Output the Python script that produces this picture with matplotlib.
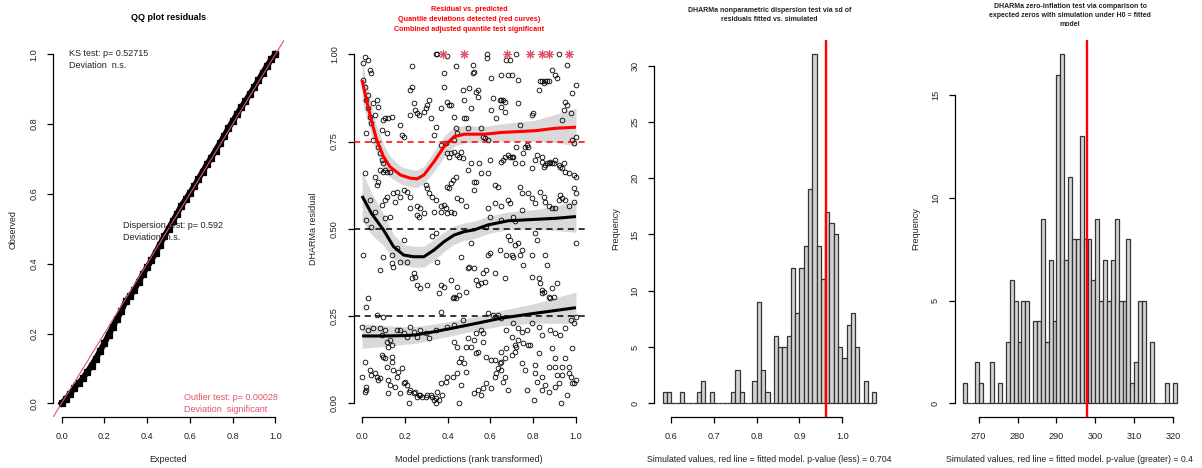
import numpy as np
import matplotlib.pyplot as plt

plt.rcParams['font.family'] = ['Liberation Sans', 'DejaVu Sans']

W, H = 1202, 468
TXT = '#222222'
PINK = '#DF536B'

# ---- panel 1: QQ plot ----
qq_expected = [0.00, 0.02, 0.04, 0.06, 0.08, 0.10, 0.12, 0.14, 0.16, 0.18,
               0.20, 0.22, 0.24, 0.26, 0.28, 0.30, 0.32, 0.34, 0.36, 0.38,
               0.40, 0.42, 0.44, 0.46, 0.48, 0.50, 0.52, 0.54, 0.56, 0.58,
               0.60, 0.62, 0.64, 0.66, 0.68, 0.70, 0.72, 0.74, 0.76, 0.78,
               0.80, 0.82, 0.84, 0.86, 0.88, 0.90, 0.92, 0.94, 0.96, 0.98, 1.00]
qq_observed = [0.000, 0.012, 0.028, 0.045, 0.058, 0.072, 0.090, 0.108, 0.128, 0.150,
               0.172, 0.196, 0.220, 0.242, 0.265, 0.292, 0.308, 0.325, 0.348, 0.370,
               0.390, 0.410, 0.432, 0.455, 0.478, 0.500, 0.522, 0.543, 0.566, 0.584,
               0.603, 0.622, 0.643, 0.664, 0.685, 0.704, 0.724, 0.745, 0.766, 0.788,
               0.808, 0.828, 0.848, 0.866, 0.886, 0.905, 0.925, 0.946, 0.966, 0.985, 1.000]

# ---- panel 2: residual vs predicted ----
resid_pts = [
    (0.005, 0.974), (0.013, 0.993), (0.028, 0.984), (0.02, 0.774), (0.005, 0.926), (0.013, 0.907),
    (0.02, 0.869), (0.028, 0.845), (0.036, 0.955), (0.044, 0.946), (0.052, 0.86), (0.036, 0.821),
    (0.028, 0.883), (0.068, 0.869), (0.076, 0.85), (0.06, 0.826), (0.044, 0.802), (0.052, 0.755),
    (0.076, 0.735), (0.084, 0.716), (0.091, 0.697), (0.099, 0.688), (0.084, 0.669), (0.06, 0.649),
    (0.076, 0.635), (0.068, 0.626), (0.099, 0.664), (0.107, 0.669), (0.115, 0.664), (0.131, 0.664),
    (0.099, 0.812), (0.107, 0.817), (0.123, 0.817), (0.139, 0.821), (0.091, 0.783), (0.115, 0.774),
    (0.178, 0.797), (0.186, 0.769), (0.194, 0.764), (0.162, 0.606), (0.147, 0.602), (0.115, 0.592),
    (0.107, 0.583), (0.091, 0.568), (0.06, 0.549), (0.036, 0.583), (0.02, 0.525), (0.013, 0.659),
    (0.044, 0.506), (0.107, 0.53), (0.131, 0.535), (0.155, 0.578), (0.178, 0.592), (0.194, 0.611),
    (0.21, 0.606), (0.226, 0.592), (0.226, 0.559), (0.257, 0.565), (0.273, 0.559), (0.257, 0.54),
    (0.265, 0.535), (0.289, 0.544), (0.297, 0.626), (0.304, 0.616), (0.312, 0.602), (0.328, 0.592),
    (0.336, 0.549), (0.344, 0.583), (0.368, 0.549), (0.391, 0.559), (0.399, 0.544), (0.415, 0.549),
    (0.431, 0.544), (0.226, 0.898), (0.233, 0.907), (0.233, 0.965), (0.249, 0.84), (0.265, 0.826),
    (0.289, 0.836), (0.297, 0.845), (0.304, 0.855), (0.312, 0.869), (0.32, 0.817), (0.336, 0.769),
    (0.368, 0.845), (0.383, 0.946), (0.383, 0.907), (0.399, 0.864), (0.407, 0.855), (0.415, 0.855),
    (0.438, 0.965), (0.446, 0.774), (0.438, 0.788), (0.431, 0.821), (0.431, 0.721), (0.446, 0.712),
    (0.454, 0.707), (0.462, 0.721), (0.47, 0.702), (0.47, 0.898), (0.478, 0.869), (0.478, 0.817),
    (0.486, 0.817), (0.494, 0.788), (0.502, 0.903), (0.509, 0.845), (0.517, 0.946), (0.517, 0.969),
    (0.525, 0.95), (0.533, 0.893), (0.541, 0.879), (0.541, 0.898), (0.557, 0.788), (0.565, 0.764),
    (0.573, 0.759), (0.549, 0.688), (0.509, 0.688), (0.494, 0.669), (0.525, 0.635), (0.533, 0.635),
    (0.557, 0.659), (0.588, 0.755), (0.588, 0.659), (0.596, 0.697), (0.604, 0.931), (0.604, 0.84),
    (0.612, 0.874), (0.628, 0.817), (0.644, 0.869), (0.651, 0.869), (0.659, 0.869), (0.667, 0.864),
    (0.651, 0.85), (0.667, 0.836), (0.651, 0.941), (0.683, 0.941), (0.699, 0.941), (0.691, 0.984),
    (0.73, 0.926), (0.73, 0.86), (0.738, 0.797), (0.746, 0.688), (0.754, 0.716), (0.762, 0.735),
    (0.77, 0.74), (0.778, 0.735), (0.793, 0.673), (0.809, 0.697), (0.817, 0.712), (0.793, 0.826),
    (0.801, 0.831), (0.825, 0.898), (0.833, 0.922), (0.841, 0.922), (0.849, 0.917), (0.856, 0.922),
    (0.864, 0.922), (0.872, 0.922), (0.888, 0.955), (0.904, 0.941), (0.912, 0.931), (0.935, 0.812),
    (0.943, 0.84), (0.951, 0.864), (0.959, 0.855), (0.975, 0.831), (0.983, 0.888), (0.959, 0.969),
    (0.998, 0.912), (0.983, 0.755), (0.991, 0.745), (0.998, 0.764), (0.841, 0.707), (0.841, 0.692),
    (0.849, 0.678), (0.856, 0.683), (0.864, 0.688), (0.872, 0.688), (0.88, 0.692), (0.888, 0.688),
    (0.896, 0.688), (0.904, 0.697), (0.92, 0.683), (0.927, 0.678), (0.935, 0.673), (0.943, 0.688),
    (0.951, 0.664), (0.967, 0.659), (0.991, 0.654), (0.998, 0.649), (0.651, 0.692), (0.659, 0.697),
    (0.667, 0.707), (0.683, 0.712), (0.691, 0.707), (0.699, 0.707), (0.707, 0.707), (0.715, 0.688),
    (0.722, 0.735), (0.738, 0.621), (0.746, 0.602), (0.651, 0.525), (0.651, 0.564), (0.683, 0.583),
    (0.691, 0.573), (0.707, 0.535), (0.715, 0.521), (0.746, 0.554), (0.778, 0.602), (0.793, 0.587),
    (0.809, 0.573), (0.833, 0.606), (0.849, 0.592), (0.856, 0.578), (0.872, 0.564), (0.888, 0.559),
    (0.904, 0.559), (0.92, 0.583), (0.927, 0.597), (0.935, 0.587), (0.951, 0.583), (0.967, 0.564),
    (0.991, 0.616), (0.998, 0.602), (0.991, 0.578), (0.62, 0.626), (0.636, 0.621), (0.62, 0.573),
    (0.525, 0.611), (0.486, 0.564), (0.446, 0.587), (0.462, 0.583), (0.438, 0.649), (0.423, 0.64),
    (0.415, 0.63), (0.407, 0.616), (0.399, 0.621), (0.383, 0.568), (0.368, 0.564), (0.344, 0.793),
    (0.368, 0.74), (0.391, 0.745), (0.399, 0.716), (0.407, 0.707), (0.415, 0.716), (0.431, 0.755),
    (0.226, 0.826), (0.257, 0.831), (0.241, 0.86), (0.588, 0.559), (0.596, 0.535), (0.58, 0.506),
    (0.344, 1.0), (0.352, 1.0), (0.399, 0.995), (0.584, 1.0), (0.584, 0.99), (0.722, 1.0),
    (0.92, 1.0), (0.675, 0.984),
    (0.005, 0.425), (0.013, 0.119), (0.013, 0.033), (0.02, 0.048), (0.02, 0.038), (0.0, 0.076),
    (0.028, 0.301), (0.036, 0.096), (0.044, 0.081), (0.068, 0.076), (0.084, 0.072), (0.091, 0.138),
    (0.099, 0.134), (0.107, 0.129), (0.115, 0.105), (0.123, 0.067), (0.131, 0.053), (0.123, 0.029),
    (0.139, 0.134), (0.147, 0.096), (0.155, 0.048), (0.162, 0.076), (0.17, 0.091), (0.186, 0.1),
    (0.178, 0.029), (0.194, 0.057), (0.202, 0.062), (0.21, 0.053), (0.218, 0.033), (0.226, 0.038),
    (0.241, 0.029), (0.249, 0.033), (0.257, 0.019), (0.265, 0.024), (0.273, 0.024), (0.281, 0.019),
    (0.297, 0.019), (0.304, 0.024), (0.32, 0.024), (0.328, 0.019), (0.336, 0.01), (0.344, 0.014),
    (0.352, 0.033), (0.36, 0.01), (0.375, 0.024), (0.368, 0.057), (0.391, 0.062), (0.399, 0.076),
    (0.423, 0.076), (0.446, 0.086), (0.454, 0.119), (0.462, 0.129), (0.478, 0.115), (0.486, 0.091),
    (0.462, 0.053), (0.525, 0.029), (0.541, 0.038), (0.557, 0.024), (0.565, 0.043), (0.58, 0.057),
    (0.604, 0.043), (0.62, 0.076), (0.628, 0.086), (0.636, 0.1), (0.644, 0.115), (0.651, 0.096),
    (0.667, 0.129), (0.683, 0.038), (0.699, 0.138), (0.715, 0.148), (0.722, 0.162), (0.746, 0.115),
    (0.754, 0.172), (0.77, 0.038), (0.785, 0.167), (0.809, 0.086), (0.817, 0.062), (0.841, 0.038),
    (0.856, 0.053), (0.872, 0.033), (0.904, 0.048), (0.912, 0.081), (0.92, 0.057), (0.935, 0.105),
    (0.967, 0.105), (0.975, 0.076), (0.983, 0.057), (0.991, 0.057), (0.959, 0.024), (0.659, 0.062),
    (0.667, 0.076), (0.651, 0.119), (0.084, 0.382), (0.099, 0.42), (0.139, 0.425), (0.162, 0.444),
    (0.139, 0.401), (0.147, 0.392), (0.178, 0.406), (0.194, 0.468), (0.21, 0.406), (0.233, 0.358),
    (0.241, 0.372), (0.249, 0.363), (0.257, 0.339), (0.273, 0.33), (0.304, 0.339), (0.328, 0.478),
    (0.344, 0.487), (0.352, 0.406), (0.36, 0.315), (0.368, 0.339), (0.383, 0.334), (0.415, 0.353),
    (0.423, 0.301), (0.431, 0.306), (0.438, 0.301), (0.446, 0.334), (0.454, 0.31), (0.462, 0.42),
    (0.486, 0.32), (0.494, 0.387), (0.502, 0.392), (0.509, 0.458), (0.525, 0.387), (0.533, 0.353),
    (0.541, 0.339), (0.557, 0.344), (0.565, 0.372), (0.573, 0.349), (0.58, 0.382), (0.588, 0.425),
    (0.596, 0.43), (0.62, 0.372), (0.644, 0.439), (0.667, 0.358), (0.675, 0.425), (0.683, 0.478),
    (0.691, 0.468), (0.699, 0.425), (0.707, 0.42), (0.715, 0.454), (0.73, 0.458), (0.738, 0.425),
    (0.746, 0.439), (0.754, 0.396), (0.793, 0.425), (0.793, 0.363), (0.809, 0.487), (0.817, 0.468),
    (0.825, 0.358), (0.833, 0.344), (0.841, 0.315), (0.841, 0.325), (0.849, 0.32), (0.856, 0.425),
    (0.864, 0.396), (0.872, 0.306), (0.88, 0.301), (0.888, 0.33), (0.896, 0.306), (0.912, 0.344),
    (0.998, 0.458), (0.0, 0.22), (0.02, 0.277), (0.028, 0.21), (0.068, 0.253), (0.091, 0.196),
    (0.099, 0.248), (0.107, 0.21), (0.131, 0.181), (0.139, 0.167), (0.162, 0.21), (0.178, 0.21),
    (0.194, 0.201), (0.21, 0.191), (0.226, 0.22), (0.241, 0.205), (0.257, 0.191), (0.273, 0.21),
    (0.297, 0.201), (0.312, 0.186), (0.344, 0.21), (0.368, 0.263), (0.399, 0.22), (0.431, 0.224),
    (0.47, 0.239), (0.494, 0.186), (0.509, 0.162), (0.533, 0.201), (0.557, 0.21), (0.565, 0.201),
    (0.588, 0.258), (0.612, 0.253), (0.636, 0.253), (0.651, 0.244), (0.675, 0.21), (0.707, 0.229),
    (0.73, 0.215), (0.746, 0.205), (0.77, 0.21), (0.793, 0.229), (0.825, 0.22), (0.841, 0.196),
    (0.88, 0.21), (0.904, 0.201), (0.927, 0.196), (0.951, 0.215), (0.975, 0.239), (0.991, 0.229),
    (0.998, 0.248), (0.06, 0.086), (0.076, 0.067), (0.115, 0.177), (0.123, 0.162), (0.139, 0.119),
    (0.052, 0.215), (0.084, 0.215), (0.431, 0.177), (0.446, 0.162), (0.486, 0.162), (0.525, 0.181),
    (0.565, 0.177), (0.62, 0.124), (0.651, 0.148), (0.675, 0.158), (0.715, 0.167), (0.762, 0.096),
    (0.809, 0.11), (0.841, 0.076), (0.872, 0.105), (0.904, 0.105), (0.935, 0.081), (0.967, 0.086),
    (0.998, 0.067), (0.533, 0.143), (0.541, 0.148), (0.58, 0.134), (0.604, 0.124), (0.699, 0.191),
    (0.73, 0.181), (0.778, 0.167), (0.825, 0.143), (0.888, 0.158), (0.904, 0.129), (0.951, 0.129),
    (0.983, 0.158), (0.22, 0.0), (0.345, 0.0), (0.455, 0.0), (0.805, 0.01), (0.93, 0.0),
]
outlier_x = [0.38, 0.478, 0.678, 0.785, 0.841, 0.875, 0.967]

q75_x = [0, 0.02, 0.044, 0.068, 0.1, 0.13, 0.18, 0.226, 0.257, 0.289, 0.336, 0.383, 0.43, 0.478, 0.573, 0.651, 0.809, 0.904, 1.0]
q75_y = [0.926, 0.87, 0.81, 0.755, 0.707, 0.678, 0.654, 0.645, 0.643, 0.654, 0.692, 0.735, 0.764, 0.771, 0.771, 0.776, 0.781, 0.788, 0.791]
q75_se = [0.06, 0.05, 0.045, 0.04, 0.035, 0.03, 0.025, 0.025, 0.025, 0.025, 0.028, 0.03, 0.028, 0.025, 0.022, 0.025, 0.03, 0.04, 0.055]

q50_x = [0, 0.044, 0.1, 0.147, 0.194, 0.241, 0.289, 0.336, 0.383, 0.43, 0.478, 0.525, 0.588, 0.683, 0.809, 0.904, 1.0]
q50_y = [0.594, 0.544, 0.497, 0.449, 0.425, 0.42, 0.42, 0.439, 0.463, 0.482, 0.492, 0.497, 0.511, 0.523, 0.527, 0.53, 0.535]
q50_se = [0.07, 0.06, 0.045, 0.035, 0.03, 0.03, 0.03, 0.03, 0.028, 0.026, 0.025, 0.025, 0.025, 0.025, 0.028, 0.035, 0.045]

q25_x = [0, 0.1, 0.2, 0.25, 0.336, 0.494, 0.651, 0.809, 1.0]
q25_y = [0.193, 0.193, 0.194, 0.196, 0.205, 0.224, 0.244, 0.258, 0.274]
q25_se = [0.035, 0.03, 0.025, 0.024, 0.022, 0.02, 0.022, 0.028, 0.045]

# ---- panel 3: dispersion histogram ----
disp_start, disp_width = 0.58, 0.01
disp_counts = [1, 1, 0, 0, 1, 0, 0, 0, 1, 2, 0, 1, 0, 0, 0, 0, 1, 3, 1, 0,
               0, 2, 9, 3, 1, 0, 6, 5, 5, 6, 12, 8, 12, 14, 19, 31, 14, 11, 17, 16,
               15, 5, 4, 7, 8, 5, 0, 2, 0, 1]
disp_observed = 0.963

# ---- panel 4: zero-inflation histogram ----
zero_start, zero_width = 266, 1
zero_counts = [1, 0, 0, 2, 1, 0, 0, 2, 0, 1, 0,
               3, 6, 5, 3, 5, 5, 0, 4, 4, 9,
               3, 7, 4, 16, 17, 7, 11, 8, 8, 13,
               8, 8, 6, 9, 5, 7, 5, 7, 9, 5,
               5, 8, 1, 2, 5, 5, 0, 3, 0, 0,
               0, 1, 0, 1]
zero_observed = 297.75


fig = plt.figure(figsize=(W / 100, H / 100), dpi=100)


def ftext(x, y, s, **kw):
    kw.setdefault('color', TXT)
    kw.setdefault('fontsize', 6.5)
    fig.text(x / W, 1 - y / H, s, **kw)


def panel(i, xlim, ylim, xticks, yticks, xfmt, yfmt):
    left = 53 + 300.5 * i
    ax = fig.add_axes([left / W, 1 - 417.3 / H, 231 / W, 377 / H])
    ax.set_xlim(*xlim)
    ax.set_ylim(*ylim)
    for s in ('top', 'right'):
        ax.spines[s].set_visible(False)
    ax.spines['left'].set_bounds(yticks[0], yticks[-1])
    ax.spines['bottom'].set_bounds(xticks[0], xticks[-1])
    for s in ('left', 'bottom'):
        ax.spines[s].set_linewidth(0.9)
    ax.set_xticks(xticks)
    ax.set_yticks(yticks)
    ax.set_xticklabels([xfmt.format(v) for v in xticks])
    ax.set_yticklabels([yfmt.format(v) for v in yticks], rotation=90, va='center')
    ax.tick_params(direction='out', length=4, width=0.9, labelsize=6.6,
                   labelcolor=TXT, pad=6.5)
    return ax, left


# QQ plot
ax1, l1 = panel(0, (-0.04, 1.04), (-0.04, 1.04), [0, 0.2, 0.4, 0.6, 0.8, 1.0],
                [0, 0.2, 0.4, 0.6, 0.8, 1.0], '{:.1f}', '{:.1f}')
ax1.plot(qq_expected, qq_observed, '-', color='black', lw=4.2, zorder=3)
ax1.plot(qq_expected, qq_observed, 's', mfc='black', mec='black', ms=4.2, mew=0.9, zorder=3)
ax1.axline((0, 0), slope=1, color=PINK, lw=0.8, zorder=4)
ftext(l1 + 115.5, 18, 'QQ plot residuals', ha='center', va='center', fontweight='bold', color='black')
ftext(69, 53, 'KS test: p= 0.52715', va='center')
ftext(69, 66, 'Deviation  n.s.', va='center')
ftext(123, 225, 'Dispersion test: p= 0.592', va='center', zorder=1)
ftext(123, 237, 'Deviation  n.s.', va='center', zorder=1)
ftext(184, 397, 'Outlier test: p= 0.00028', va='center', color=PINK)
ftext(184, 409, 'Deviation  significant', va='center', color=PINK)
ftext(l1 + 115.5, 459, 'Expected', ha='center', va='center')
ftext(l1 - 40, 229, 'Observed', ha='center', va='center', rotation=90)

# residual vs predicted
ax2, l2 = panel(1, (-0.04, 1.04), (-0.04, 1.04), [0, 0.2, 0.4, 0.6, 0.8, 1.0],
                [0, 0.25, 0.5, 0.75, 1.0], '{:.1f}', '{:.2f}')
for qx, qy, qs in ((q75_x, q75_y, q75_se), (q50_x, q50_y, q50_se), (q25_x, q25_y, q25_se)):
    lo = [a - b for a, b in zip(qy, qs)]
    hi = [a + b for a, b in zip(qy, qs)]
    ax2.fill_between(qx, lo, hi, color='#D9D9D9', lw=0, zorder=1)
rx = [p[0] for p in resid_pts]
ry = [p[1] for p in resid_pts]
ax2.plot(rx, ry, 'o', mfc='none', mec='black', ms=3.4, mew=0.6, zorder=2)
ax2.axhline(0.25, color='black', ls=(0, (4, 3)), lw=1.1, zorder=3)
ax2.axhline(0.5, color='black', ls=(0, (4, 3)), lw=1.1, zorder=3)
ax2.axhline(0.75, color='red', ls=(0, (4, 3)), lw=1.1, zorder=3)
ax2.plot(q25_x, q25_y, color='black', lw=2.2, zorder=4, solid_capstyle='butt')
ax2.plot(q50_x, q50_y, color='black', lw=2.2, zorder=4, solid_capstyle='butt')
ax2.plot(q75_x, q75_y, color='red', lw=2.2, zorder=4, solid_capstyle='butt')
ax2.plot(outlier_x, [1.0] * len(outlier_x), ls='none', marker=(8, 2, 0), ms=6,
         mec=PINK, mew=0.8, zorder=5)
for k, line in enumerate(['Residual vs. predicted',
                          'Quantile deviations detected (red curves)',
                          'Combined adjusted quantile test significant']):
    ftext(l2 + 115.5, 9.7 + 9.8 * k, line, ha='center', va='center', color='red',
          fontsize=5.2, fontweight='bold')
ftext(l2 + 115.5, 459, 'Model predictions (rank transformed)', ha='center', va='center')
ftext(l2 - 39.5, 229, 'DHARMa residual', ha='center', va='center', rotation=90)


def hist_panel(i, counts, start, width, observed, xticks, yticks, xfmt, title, xlabel, ty):
    lo = start
    hi = start + width * len(counts)
    pad = 0.04 * (hi - lo)
    ymax = max(counts)
    ax, left = panel(i, (lo - pad, hi + pad), (-0.04 * ymax, 1.04 * ymax), xticks, yticks,
                     xfmt, '{:d}')
    lefts = [start + width * k for k in range(len(counts))]
    ax.bar(lefts, counts, width=width, align='edge', color='#D3D3D3',
           edgecolor='#333333', lw=0.9, zorder=2)
    ax.axvline(observed, color='red', lw=1.7, zorder=3)
    for k, line in enumerate(title):
        ftext(left + 115.5, ty + 9.3 * k, line, ha='center', va='center',
              fontsize=5.0, fontweight='bold')
    ftext(left + 115.5, 459, xlabel, ha='center', va='center', fontsize=6.3)
    ftext(left - 38.5, 229, 'Frequency', ha='center', va='center', rotation=90)
    return ax


hist_panel(2, disp_counts, disp_start, disp_width, disp_observed,
           [0.6, 0.7, 0.8, 0.9, 1.0], [0, 5, 10, 15, 20, 25, 30], '{:.1f}',
           ['DHARMa nonparametric dispersion test via sd of',
            'residuals fitted vs. simulated'],
           'Simulated values, red line = fitted model. p-value (less) = 0.704', 10)
hist_panel(3, zero_counts, zero_start, zero_width, zero_observed,
           [270, 280, 290, 300, 310, 320], [0, 5, 10, 15], '{:d}',
           ['DHARMa zero-inflation test via comparison to',
            'expected zeros with simulation under H0 = fitted',
            'model'],
           'Simulated values, red line = fitted model. p-value (greater) = 0.4', 6)

fig.savefig('out.png', dpi=100)
